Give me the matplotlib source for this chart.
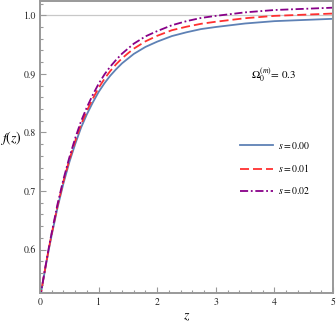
import numpy as np
import matplotlib
matplotlib.use("Agg")
import matplotlib.pyplot as plt
from matplotlib.ticker import MultipleLocator

# values
z = [0.0, 0.05, 0.1, 0.15, 0.2, 0.3, 0.4, 0.5, 0.6, 0.7, 0.8, 0.9, 1.0, 1.1, 1.2, 1.3,
     1.4, 1.5, 1.6, 1.8, 2.0, 2.25, 2.5, 2.75, 3.0, 3.5, 4.0, 4.5, 5.0]
f_s000 = [0.516, 0.545, 0.573, 0.600, 0.625, 0.672, 0.713, 0.749, 0.780, 0.808, 0.831,
          0.851, 0.869, 0.884, 0.897, 0.908, 0.918, 0.926, 0.934, 0.946, 0.955, 0.9645,
          0.971, 0.9765, 0.980, 0.986, 0.990, 0.992, 0.994]
f_s001 = [0.516, 0.5455, 0.574, 0.6015, 0.627, 0.675, 0.7165, 0.753, 0.785, 0.8135, 0.837,
          0.8575, 0.876, 0.8915, 0.905, 0.9165, 0.9265, 0.935, 0.943, 0.9555, 0.965, 0.9745,
          0.9805, 0.9855, 0.989, 0.995, 0.999, 1.001, 1.003]
f_s002 = [0.516, 0.546, 0.575, 0.603, 0.629, 0.678, 0.720, 0.757, 0.790, 0.819, 0.843,
          0.864, 0.883, 0.899, 0.9125, 0.924, 0.9345, 0.943, 0.9515, 0.964, 0.973, 0.983,
          0.990, 0.9955, 0.999, 1.005, 1.009, 1.011, 1.013]
labels = ["$s = 0.00$", "$s = 0.01$", "$s = 0.02$"]

plt.rcParams['mathtext.fontset'] = 'stix'
plt.rcParams['font.family'] = ['STIXGeneral', 'DejaVu Serif']

fig = plt.figure(figsize=(3.36, 3.22), dpi=100)
ax = fig.add_axes([40 / 336, 1 - 293 / 322, 293 / 336, 292 / 322])

ax.axhline(1.0, color='#c8c8c8', lw=0.9, zorder=0)
ax.plot(z, f_s000, color='#5e81b5', lw=1.3, label=labels[0])
ax.plot(z, f_s001, color='#ff3030', lw=1.3, ls=(0, (5, 2.2)), label=labels[1])
ax.plot(z, f_s002, color='#880088', lw=1.3, ls=(0, (4.5, 1.5, 1, 1.5)), label=labels[2])

ax.set_xlim(0, 5)
ax.set_ylim(0.5258, 1.0244)
ax.xaxis.set_major_locator(MultipleLocator(1))
ax.xaxis.set_minor_locator(MultipleLocator(0.2))
ax.yaxis.set_major_locator(MultipleLocator(0.1))
ax.yaxis.set_minor_locator(MultipleLocator(0.02))
ax.xaxis.set_major_formatter(plt.FuncFormatter(lambda v, p: "%d" % v))
ax.yaxis.set_major_formatter(plt.FuncFormatter(lambda v, p: "%.1f" % v))
ax.tick_params(which='both', direction='in', colors='#999999', labelcolor='#222222',
               labelsize=7, width=0.8, pad=3)
ax.tick_params(which='major', length=4.5)
ax.tick_params(which='minor', length=2.5)

for sp in ax.spines.values():
    sp.set_color('#999999')
    sp.set_linewidth(1.4)

ax.set_xlabel("$z$", fontsize=10, labelpad=2)
ax.set_ylabel("$f(z)$", fontsize=10, rotation=0)
ax.yaxis.set_label_coords(-0.098, 0.5)

ax.text(0.72, 0.745, r"$\Omega_0^{(m)}$= 0.3", transform=ax.transAxes, fontsize=8,
        va='center', ha='left')

ax.legend(loc='center left', bbox_to_anchor=(0.683, 0.428), frameon=False, fontsize=7,
          handlelength=3.4, handletextpad=0.5, labelspacing=1.15, borderpad=0,
          borderaxespad=0)

fig.savefig("out.png", dpi=100)
